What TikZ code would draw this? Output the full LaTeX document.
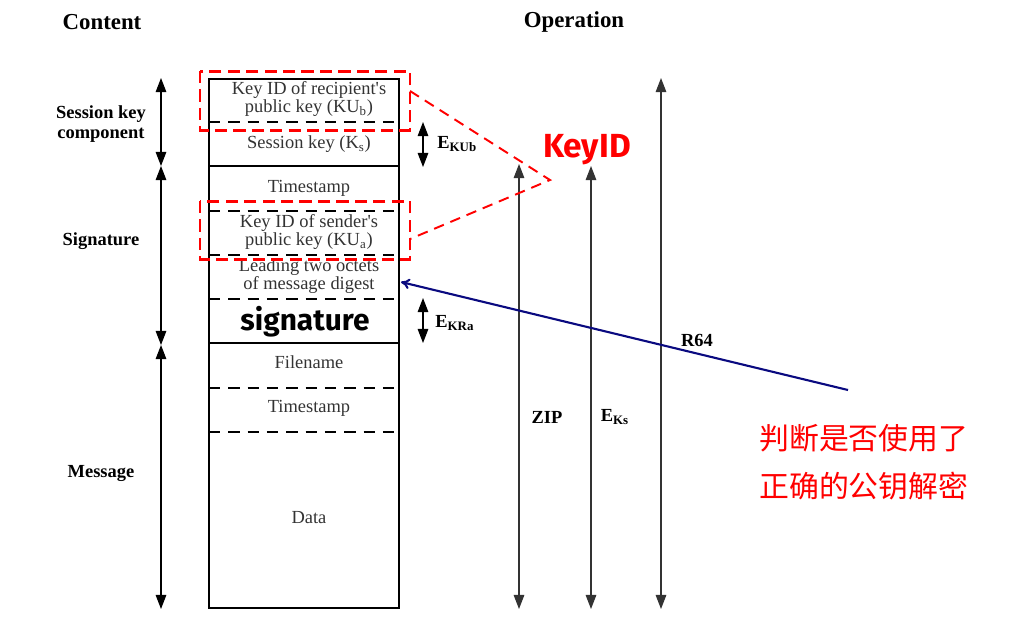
\documentclass[tikz,border=0pt]{standalone}
\usepackage{fontspec}
\setmainfont{Liberation Serif}
\newfontfamily\cjk{Noto Sans CJK SC}
\newfontfamily\handfont{Fira Sans}
\usepackage{tikz}
\usetikzlibrary{arrows.meta, positioning, calc}
\usepackage{xcolor}
\definecolor{linegray}{HTML}{333333}
\definecolor{navyline}{HTML}{0A0A80}

\begin{document}
\begin{tikzpicture}[x=0.02cm, y=-0.02cm,
    fld/.style={font=\fontsize{10.5}{10.5}\selectfont, text=black!80, align=center, inner sep=0},
    hdr/.style={font=\bfseries\fontsize{13}{15}\selectfont, inner sep=0},
    side/.style={font=\bfseries\fontsize{10.5}{11}\selectfont, align=center, inner sep=0},
    oplbl/.style={font=\bfseries\fontsize{10.5}{11}\selectfont, inner sep=0},
    span/.style={{Triangle[length=8pt,width=6pt]}-{Triangle[length=8pt,width=6pt]}, line width=0.7pt},
    sep/.style={dash pattern=on 6.5pt off 4.5pt, line width=0.6pt},
    redbox/.style={draw=red, line width=1.7pt, dash pattern=on 7pt off 3.5pt},
    redline/.style={draw=red, line width=1.1pt, dash pattern=on 6pt off 4pt}]
\useasboundingbox (0,0) rectangle (1011,627);
% headings
\node[hdr] (content) at (102,22) {Content};
\node[hdr] (operation) at (574,22) {Operation};
% message box
\coordinate (tl) at (209,79);
\coordinate (br) at (399,608);
\draw[line width=1.1pt] (tl) rectangle (br);
\draw[line width=1.1pt] (209,166) -- (399,166);
\draw[line width=1.1pt] (209,343) -- (399,343);
\foreach \y in {122,211,255,299,388,432}
  \draw[sep] (209,\y) -- (399,\y);
\node[fld] (kidr) at (309,99) {Key ID of recipient\textquotesingle s\\public key (KU\textsubscript{b})};
\node[fld] (skey) at (309,144) {Session key (K\textsubscript{s})};
\node[fld] (ts1) at (309,188) {Timestamp};
\node[fld] (kids) at (309,232) {Key ID of sender\textquotesingle s\\public key (KU\textsubscript{a})};
\node[fld] (lead) at (309,276) {Leading two octets\\of message digest};
\node[font=\handfont\bfseries\fontsize{17}{18}\selectfont, inner sep=0] (sig) at (305,322) {signature};
\node[fld] (fname) at (309,362) {Filename};
\node[fld] (ts2) at (309,408) {Timestamp};
\node[fld] (data) at (309,518) {Data};
% content spans
\node[side] (sklbl) at (101,124) {Session key\\component};
\node[side] (siglbl) at (101,241) {Signature};
\node[side] (msglbl) at (101,473) {Message};
\coordinate (s1) at (161,78);
\coordinate (s2) at (161,166);
\coordinate (s3) at (161,345);
\coordinate (s4) at (161,609);
\draw[span] (s1) -- (s2);
\draw[span] (s2) -- (s3);
\draw[span] (s3) -- (s4);
% encryption spans
\coordinate (ku1) at (423,122);
\coordinate (ku2) at (423,167);
\coordinate (kr1) at (423,298);
\coordinate (kr2) at (423,343);
\draw[span] (ku1) -- (ku2);
\draw[span] (kr1) -- (kr2);
\node[oplbl, anchor=west] (ekub) at (437,144) {E\textsubscript{KUb}};
\node[oplbl, anchor=west] (ekra) at (435,323) {E\textsubscript{KRa}};
% operations
\coordinate (zb) at (519,609);
\coordinate (zt) at (519,164);
\coordinate (eb) at (591,609);
\coordinate (et) at (591,166);
\coordinate (rb) at (661,609);
\coordinate (rt) at (661,78);
\draw[span, draw=linegray] (zb) -- (zt);
\draw[span, draw=linegray] (eb) -- (et);
\draw[span, draw=linegray] (rb) -- (rt);
\node[oplbl] (zip) at (547,417) {ZIP};
\node[oplbl] (eks) at (615,417) {E\textsubscript{Ks}};
\node[oplbl] (r64) at (697,340) {R64};
% KeyID callout
\draw[redbox] (200,71) rectangle (410,130);
\draw[redbox] (200,201) rectangle (410,259);
\coordinate (c1) at (410,91);
\coordinate (c2) at (410,239);
\coordinate (tip) at (550,180);
\draw[redline] (c1) -- (tip) -- (c2);
\node[font=\handfont\bfseries\fontsize{19}{20}\selectfont, text=red, inner sep=0] (keyid) at (587,150) {KeyID};
% note
\node[font=\cjk\fontsize{17}{27}\selectfont, text=red, align=left, inner sep=0, anchor=west] (note) at (759,462) {判断是否使用了\\正确的公钥解密};
\coordinate (nstart) at (848,390);
\coordinate (nend) at (401,282);
\draw[-{To[length=5pt,width=6pt]}, draw=navyline, line width=1.2pt] (nstart) -- (nend);
\end{tikzpicture}
\end{document}
